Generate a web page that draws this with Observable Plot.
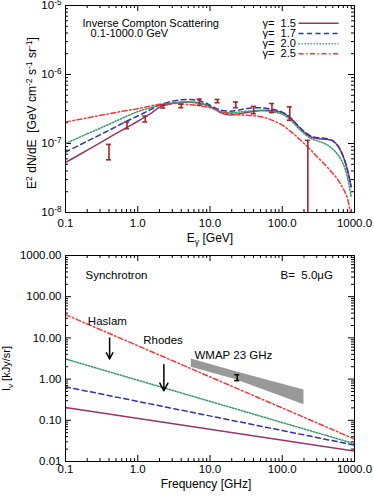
<!DOCTYPE html>
<html><head><meta charset="utf-8">
<script src="https://cdn.jsdelivr.net/npm/d3@7"></script>
<script src="https://cdn.jsdelivr.net/npm/@observablehq/plot@0.6"></script>
<style>
body{margin:0;background:#fff;}
#chart{width:374px;}
#chart svg{display:block;}
</style>
</head><body><div id="chart"></div>
<script>
// ---------- Top panel: Inverse Compton ----------
const icEnergy = [0.1,0.2,0.4,0.7,1,1.5,2,3,4,6,8,10,12,14,17,20,25,35,50,70,100,130,160,200,250,300,400,500,600,700,800,900];
const icG15 = [5.3e-8,8.0e-8,1.22e-7,1.7e-7,2.1e-7,2.7e-7,3.35e-7,3.8e-7,3.95e-7,3.95e-7,3.75e-7,3.45e-7,3.1e-7,2.8e-7,2.62e-7,2.6e-7,2.68e-7,2.85e-7,3.0e-7,3.0e-7,2.8e-7,2.35e-7,1.85e-7,1.46e-7,1.24e-7,1.18e-7,1.15e-7,1.09e-7,8.9e-8,6.4e-8,4.1e-8,2.35e-8];
const icG17 = [7.5e-8,1.08e-7,1.55e-7,2.1e-7,2.5e-7,3.1e-7,3.6e-7,4.1e-7,4.3e-7,4.3e-7,4.0e-7,3.6e-7,3.25e-7,3.05e-7,2.95e-7,2.95e-7,3.05e-7,3.25e-7,3.3e-7,3.15e-7,2.85e-7,2.35e-7,1.88e-7,1.5e-7,1.28e-7,1.22e-7,1.18e-7,1.1e-7,9e-8,6.5e-8,4.1e-8,2.4e-8];
const icG20 = [1.0e-7,1.38e-7,1.9e-7,2.48e-7,2.9e-7,3.3e-7,3.6e-7,3.85e-7,3.95e-7,3.9e-7,3.7e-7,3.4e-7,3.1e-7,2.9e-7,2.8e-7,2.8e-7,2.85e-7,2.95e-7,3.0e-7,2.9e-7,2.65e-7,2.2e-7,1.75e-7,1.4e-7,1.18e-7,1.1e-7,9.8e-8,8.3e-8,6.7e-8,5e-8,3.2e-8,1.7e-8];
const icG25 = [2.05e-7,2.35e-7,2.7e-7,3.0e-7,3.2e-7,3.5e-7,3.7e-7,3.8e-7,3.75e-7,3.6e-7,3.45e-7,3.3e-7,3.1e-7,2.9e-7,2.75e-7,2.7e-7,2.6e-7,2.55e-7,2.45e-7,2.2e-7,1.85e-7,1.5e-7,1.25e-7,1.0e-7,8e-8,6.5e-8,4.8e-8,3.7e-8,2.9e-8,2.2e-8,1.6e-8,8e-9];

const obsEnergy = [0.40,0.71,1.27,2.25,4.0,7.2,12.7,22.8,40.4,72,127,226];
const obsHigh = [9.7e-8,2.05e-7,2.5e-7,3.65e-7,3.7e-7,4.4e-7,4.35e-7,4.0e-7,3.45e-7,3.8e-7,3.4e-7,1.11e-7];
const obsLow  = [5.8e-8,1.64e-7,2.05e-7,3.27e-7,3.3e-7,3.6e-7,3.9e-7,3.3e-7,2.7e-7,2.8e-7,2.17e-7,1e-10];

const gammaLabels = ["1.5","1.7","2.0","2.5"];
const seriesColors = ["#993366","#3333aa","#339966","#ff3333"];
const seriesDash = [null,"5,3.5","1.3,1.7","5,2.5,1.5,2.5"];

const icXTicks = [0.1,1,10,100,1000];
const icYTicks = [1e-8,1e-7,1e-6,1e-5];

// ---------- Bottom panel: Synchrotron ----------
const synFreq = [0.1,1000];
const synG15 = [0.205,0.018];
const synG17 = [0.65,0.025];
const synG20 = [3.08,0.027];
const synG25 = [36.8,0.035];

const wmapFreq = [5.5,23,200];
const wmapLow  = [1.93,0.97,0.239];
const wmapHigh = [3.08,1.5,0.545];
const wmapPointFreq = [23.8];
const wmapPointLow = [0.92];
const wmapPointHigh = [1.28];

const limitNames = ["Haslam","Rhodes"];
const limitFreq = [0.408,2.3];
const limitFrom = [10.0,2.24];
const limitTo = [3.08,0.52];

const synXTicks = [0.1,1,10,100,1000];
const synYTicks = [0.01,0.1,1,10,100,1000];

// ---------- helpers ----------
const FONT = "'Liberation Sans', Arial, Helvetica, sans-serif";
function minorLog(lo, hi){
  const out = [];
  for (let p = Math.floor(Math.log10(lo)); p < Math.ceil(Math.log10(hi)); p++)
    for (let k = 2; k <= 9; k++){ const v = k*Math.pow(10,p); if (v > lo && v < hi) out.push(v); }
  return out;
}
function frameTicks(xMaj, xMin, yMaj, yMin, iw, ih){
  const L = 6, l = 3;
  return [
    Plot.tickX(xMaj,{x:d=>d,insetTop:ih-L,stroke:"black"}),
    Plot.tickX(xMaj,{x:d=>d,insetBottom:ih-L,stroke:"black"}),
    Plot.tickX(xMin,{x:d=>d,insetTop:ih-l,stroke:"black"}),
    Plot.tickX(xMin,{x:d=>d,insetBottom:ih-l,stroke:"black"}),
    Plot.tickY(yMaj,{y:d=>d,insetRight:iw-L,stroke:"black"}),
    Plot.tickY(yMaj,{y:d=>d,insetLeft:iw-L,stroke:"black"}),
    Plot.tickY(yMin,{y:d=>d,insetRight:iw-l,stroke:"black"}),
    Plot.tickY(yMin,{y:d=>d,insetLeft:iw-l,stroke:"black"})
  ];
}
function rows(xs, ys){ return xs.map((x,i)=>({x, y: ys[i]})); }
// turn ^{..} and _{..} markup into tspans
function richText(svg){
  d3.select(svg).selectAll("text").each(function(){
    const t = this.textContent;
    if (!/[\^_]\{/.test(t)) return;
    const el = d3.select(this); el.text(null);
    const re = /([\^_])\{([^}]*)\}|([^\^_]+)/g; let m; let shift = 0;
    while ((m = re.exec(t))){
      if (m[3]) { el.append("tspan").attr("dy", -shift).text(m[3]); shift = 0; }
      else { const s = m[1]==="^" ? -4.5 : 3; el.append("tspan").attr("dy", s - shift).attr("font-size","0.72em").text(m[2]); shift = s; }
    }
  });
}

// ---------- Top chart ----------
const W = 374;
const topM = {t:5, r:20, b:38, l:65, h:250};
const topIW = W - topM.l - topM.r, topIH = topM.h - topM.t - topM.b;
const icSeries = [icG15, icG17, icG20, icG25];
const legendX = 53.4, legendX1 = 168, legendX2 = 601;
const legendY = [5.55e-6,3.94e-6,2.79e-6,2.0e-6];

const topMarks = [
  ...frameTicks(icXTicks, minorLog(0.1,1000), icYTicks, minorLog(1e-8,1e-5), topIW, topIH),
  ...icSeries.map((s,i)=>Plot.line(rows(icEnergy,s),{x:"x",y:"y",stroke:seriesColors[i],strokeWidth:1.5,strokeDasharray:seriesDash[i],curve:"catmull-rom",clip:true})),
  Plot.ruleX(obsEnergy.map((e,i)=>({e,lo:obsLow[i],hi:obsHigh[i]})),{x:"e",y1:"lo",y2:"hi",stroke:"#a0282d",strokeWidth:1.6,clip:true}),
  Plot.ruleY(obsEnergy.map((e,i)=>({e,v:obsHigh[i]})),{y:"v",x1:"e",x2:"e",insetLeft:-2.5,insetRight:-2.5,stroke:"#a0282d",strokeWidth:1.6,clip:true}),
  Plot.ruleY(obsEnergy.map((e,i)=>({e,v:obsLow[i]})),{y:"v",x1:"e",x2:"e",insetLeft:-2.5,insetRight:-2.5,stroke:"#a0282d",strokeWidth:1.6,clip:true}),
  Plot.text(["Inverse Compton Scattering"],{x:0.172,y:5.5e-6,text:d=>d,textAnchor:"start",fontSize:11}),
  Plot.text(["0.1-1000.0 GeV"],{x:0.222,y:3.94e-6,text:d=>d,textAnchor:"start",fontSize:11}),
  ...gammaLabels.map((g,i)=>Plot.text([g],{x:legendX,y:legendY[i],text:d=>"γ=\u00a0\u00a0"+d,textAnchor:"start",fontSize:11})),
  ...gammaLabels.map((g,i)=>Plot.link([g],{x1:legendX1,x2:legendX2,y1:legendY[i],y2:legendY[i],stroke:seriesColors[i],strokeWidth:1.5,strokeDasharray:seriesDash[i]})),
  Plot.frame({stroke:"black"}),
  Plot.axisX({ticks:icXTicks,tickFormat:d=>d.toFixed(1),tickSize:0,tickPadding:6,label:null}),
  Plot.axisY({ticks:icYTicks,tickFormat:d=>"10^{"+Math.round(Math.log10(d))+"}",tickSize:0,tickPadding:4,label:null}),
  Plot.text(["E_{γ} [GeV]"],{frameAnchor:"bottom",dy:29,text:d=>d,fontSize:12}),
  Plot.text(["E^{2} dN/dE  [GeV cm^{-2} s^{-1} sr^{-1}]"],{frameAnchor:"left",dx:-33,dy:4,rotate:-90,textAnchor:"middle",text:d=>d,fontSize:12})
];

const topChart = Plot.plot({
  width: W, height: topM.h, marginTop: topM.t, marginRight: topM.r, marginBottom: topM.b, marginLeft: topM.l,
  style: {fontFamily: FONT, fontSize: "11.5px", color: "black", background: "white"},
  x: {type:"log", domain:[0.1,1000]},
  y: {type:"log", domain:[1e-8,1e-5]},
  marks: topMarks
});

// ---------- Bottom chart ----------
const botM = {t:5, r:20, b:37, l:65, h:248};
const botIW = W - botM.l - botM.r, botIH = botM.h - botM.t - botM.b;
const synSeries = [synG15, synG17, synG20, synG25];

const botMarks = [
  ...frameTicks(synXTicks, minorLog(0.1,1000), synYTicks, minorLog(0.01,1000), botIW, botIH),
  Plot.areaY(wmapFreq.map((f,i)=>({f,lo:wmapLow[i],hi:wmapHigh[i]})),{x:"f",y1:"lo",y2:"hi",fill:"#999999"}),
  ...synSeries.map((s,i)=>Plot.line(rows(synFreq,s),{x:"x",y:"y",stroke:seriesColors[i],strokeWidth:1.5,strokeDasharray:seriesDash[i],clip:true})),
  Plot.ruleX(wmapPointFreq.map((f,i)=>({f,lo:wmapPointLow[i],hi:wmapPointHigh[i]})),{x:"f",y1:"lo",y2:"hi",stroke:"black",strokeWidth:1.5}),
  Plot.ruleY(wmapPointFreq.map((f,i)=>({f,v:wmapPointLow[i]})),{y:"v",x1:"f",x2:"f",insetLeft:-2.5,insetRight:-2.5,stroke:"black",strokeWidth:1.5}),
  Plot.ruleY(wmapPointFreq.map((f,i)=>({f,v:wmapPointHigh[i]})),{y:"v",x1:"f",x2:"f",insetLeft:-2.5,insetRight:-2.5,stroke:"black",strokeWidth:1.5}),
  Plot.arrow(limitNames.map((n,i)=>({n,f:limitFreq[i],a:limitFrom[i],b:limitTo[i]})),{x1:"f",x2:"f",y1:"a",y2:"b",stroke:"black",strokeWidth:1.5,headLength:10,headAngle:55}),
  Plot.text(["Haslam"],{x:0.204,y:25.3,text:d=>d,textAnchor:"start"}),
  Plot.text(["Rhodes"],{x:1.19,y:8.9,text:d=>d,textAnchor:"start"}),
  Plot.text(["WMAP 23 GHz"],{x:6.1,y:3.7,text:d=>d,textAnchor:"start"}),
  Plot.text(["Synchrotron"],{x:0.189,y:327,text:d=>d,textAnchor:"start"}),
  Plot.text(["B=\u00a0\u00a05.0μG"],{x:94.6,y:327,text:d=>d,textAnchor:"start"}),
  Plot.frame({stroke:"black"}),
  Plot.axisX({ticks:synXTicks,tickFormat:d=>d.toFixed(1),tickSize:0,tickPadding:3,label:null}),
  Plot.axisY({ticks:synYTicks,tickFormat:d=>d.toFixed(2),tickSize:0,tickPadding:4,label:null}),
  Plot.text(["Frequency [GHz]"],{frameAnchor:"bottom",dy:26,dx:-4,text:d=>d,fontSize:12}),
  Plot.text(["I_{ν} [kJy/sr]"],{frameAnchor:"left",dx:-59,dy:10,rotate:-90,textAnchor:"middle",text:d=>d,fontSize:11})
];

const botChart = Plot.plot({
  width: W, height: botM.h, marginTop: botM.t, marginRight: botM.r, marginBottom: botM.b, marginLeft: botM.l,
  style: {fontFamily: FONT, fontSize: "11.5px", color: "black", background: "white"},
  x: {type:"log", domain:[0.1,1000]},
  y: {type:"log", domain:[0.01,1000]},
  marks: botMarks
});

richText(topChart);
richText(botChart);
const host = document.getElementById("chart");
host.appendChild(topChart);
host.appendChild(botChart);
</script>
</body></html>
